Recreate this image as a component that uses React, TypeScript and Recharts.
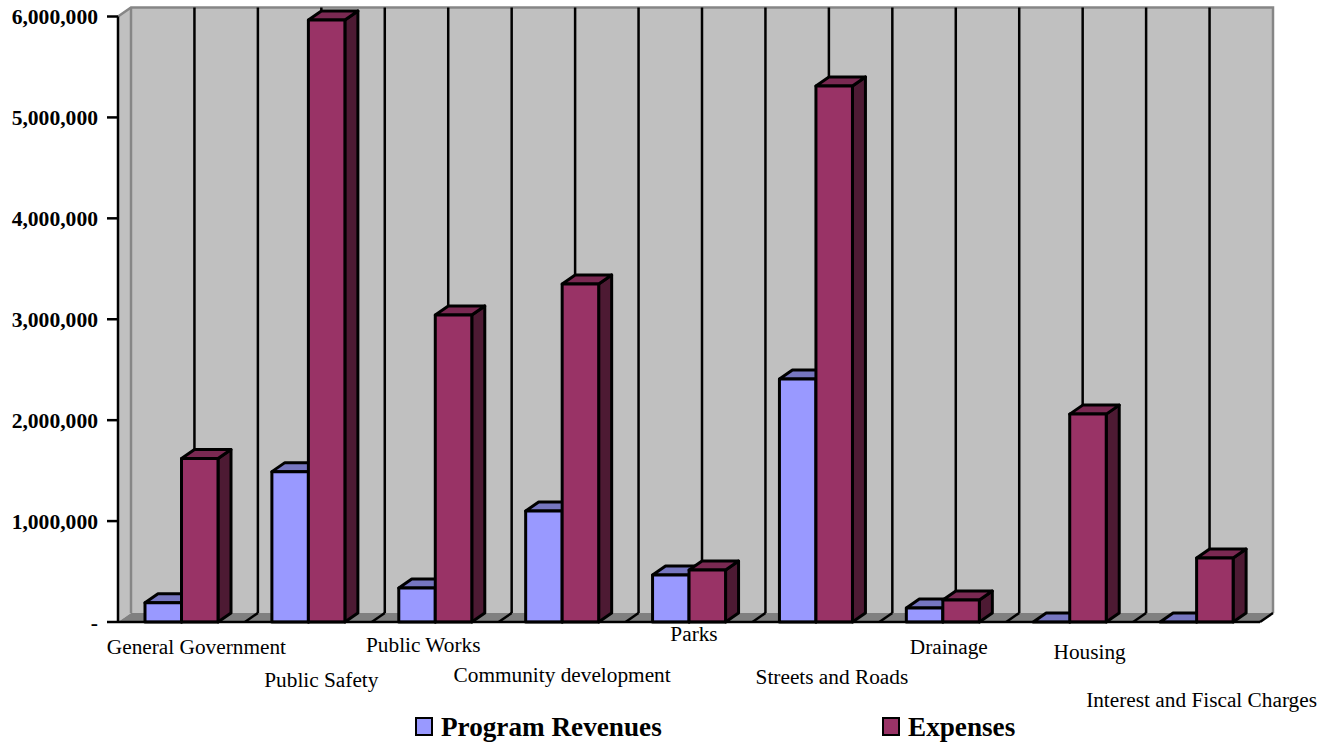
import React from 'react';
import { BarChart, Bar, XAxis, YAxis } from 'recharts';

// Government activities: program revenues against expenses, by function
const categories = [
  'General Government',
  'Public Safety',
  'Public Works',
  'Community development',
  'Parks',
  'Streets and Roads',
  'Drainage',
  'Housing',
  'Interest and Fiscal Charges',
];
const programRevenues = [190000, 1490000, 337000, 1100000, 466000, 2408000, 139000, 0, 0];
const expenses = [1620000, 5966000, 3043000, 3350000, 515000, 5312000, 218000, 2060000, 634000];
const valueTicks = [0, 1000000, 2000000, 3000000, 4000000, 5000000, 6000000];

const rows = categories.map((name, i) => ({
  name,
  revenue: programRevenues[i],
  expense: expenses[i],
}));

// Staggered placement of the category captions, relative to each tick
const captionDx = [15, 13, -12, 0, 5, 16, 6, 20, 5];
const captionY = [654, 687, 652, 682, 641, 684, 654, 659, 707];

const FONT = '"Liberation Serif", serif';
const WIDTH = 1333;
const HEIGHT = 742;
const LEFT = 118;
const RIGHT = 1260;
const TOP = 16.5;
const BASE = 622;
const DEPTH_X = 13;
const DEPTH_Y = 9;
const WALL_GREY = '#868686';

// Back wall, side wall and floor of the 3D plot box
function PlotBox() {
  const step = (RIGHT - LEFT) / categories.length / 2;
  const wallLeft = LEFT + DEPTH_X;
  const wallRight = RIGHT + DEPTH_X;
  const wallTop = TOP - DEPTH_Y;
  const wallBase = BASE - DEPTH_Y;
  const stops = Array.from({ length: categories.length * 2 - 1 }, (_, i) => LEFT + step * (i + 1));
  return (
    <g>
      <rect x={wallLeft} y={wallTop} width={RIGHT - LEFT} height={wallBase - wallTop} fill="#c0c0c0" />
      <polygon
        points={`${LEFT},${TOP} ${wallLeft},${wallTop} ${wallLeft},${wallBase} ${LEFT},${BASE}`}
        fill="#c0c0c0"
      />
      <polyline
        points={`${LEFT},${TOP} ${wallLeft},${wallTop} ${wallRight},${wallTop} ${wallRight},${wallBase}`}
        fill="none"
        stroke={WALL_GREY}
        strokeWidth={2.5}
      />
      <line x1={wallLeft} y1={wallTop} x2={wallLeft} y2={wallBase} stroke={WALL_GREY} strokeWidth={2.5} />
      <polygon
        points={`${LEFT},${BASE} ${wallLeft},${wallBase} ${wallRight},${wallBase} ${RIGHT},${BASE}`}
        fill="#808080"
      />
      {stops.map((x) => (
        <g key={x}>
          <line x1={x + DEPTH_X} y1={wallTop} x2={x + DEPTH_X} y2={wallBase} stroke="#000" strokeWidth={2.5} />
          <line x1={x} y1={BASE} x2={x + DEPTH_X} y2={wallBase} stroke="#000" strokeWidth={2.5} />
        </g>
      ))}
      <line x1={RIGHT} y1={BASE} x2={wallRight} y2={wallBase} stroke="#000" strokeWidth={2.5} />
    </g>
  );
}

// A bar drawn as a box: front face, lit top and shaded side
function boxShape(front: string, top: string, side: string) {
  return function Box(props: any) {
    const { x, y, width, height } = props;
    const r = x + width;
    const b = y + height;
    return (
      <g stroke="#000" strokeWidth={3} strokeLinejoin="round">
        <polygon
          points={`${r},${y} ${r + DEPTH_X},${y - DEPTH_Y} ${r + DEPTH_X},${b - DEPTH_Y} ${r},${b}`}
          fill={side}
        />
        <polygon
          points={`${x},${y} ${x + DEPTH_X},${y - DEPTH_Y} ${r + DEPTH_X},${y - DEPTH_Y} ${r},${y}`}
          fill={top}
        />
        <rect x={x} y={y} width={width} height={height} fill={front} />
      </g>
    );
  };
}

function CategoryTick(props: any) {
  const { x, index, payload } = props;
  return (
    <text
      x={x + captionDx[index]}
      y={captionY[index]}
      textAnchor="middle"
      fontFamily={FONT}
      fontSize={21.3}
      fill="#000"
    >
      {payload.value}
    </text>
  );
}

function LegendEntry({ left, label, color }: { left: number; label: string; color: string }) {
  return (
    <div style={{ position: 'absolute', left, top: 0, whiteSpace: 'nowrap', lineHeight: '30px' }}>
      <span
        style={{
          position: 'absolute',
          left: 0,
          top: 5,
          width: 14,
          height: 15,
          background: color,
          border: '2.5px solid #000',
        }}
      />
      <span style={{ position: 'absolute', left: 26, top: 0, fontFamily: FONT, fontWeight: 700, fontSize: 27.2, color: '#000' }}>
        {label}
      </span>
    </div>
  );
}

const revenueBox = boxShape('#9999ff', '#7676c0', '#4d4d80');
const expenseBox = boxShape('#993366', '#7a2952', '#4d1a33');

export default function App() {
  return (
    <div style={{ position: 'absolute', left: 0, top: 0, width: WIDTH, height: HEIGHT, background: '#fff', overflow: 'hidden' }}>
      <BarChart
        width={WIDTH}
        height={HEIGHT}
        data={rows}
        margin={{ top: TOP, right: WIDTH - RIGHT, bottom: 0, left: 0 }}
        barGap={0}
        barSize={36.5}
      >
        <PlotBox />
        <XAxis
          dataKey="name"
          height={HEIGHT - BASE}
          interval={0}
          axisLine={{ stroke: '#000', strokeWidth: 2.5 }}
          tickLine={false}
          tick={<CategoryTick />}
        />
        <YAxis
          width={LEFT}
          domain={[0, 6000000]}
          ticks={valueTicks}
          interval={0}
          tickSize={11}
          tickMargin={9}
          axisLine={{ stroke: '#000', strokeWidth: 2.5 }}
          tickLine={{ stroke: '#000', strokeWidth: 2.5 }}
          tick={{ fontFamily: FONT, fontWeight: 700, fontSize: 21.6, fill: '#000' }}
          tickFormatter={(v: number) => (v === 0 ? '-' : v.toLocaleString('en-US'))}
        />
        <Bar dataKey="revenue" isAnimationActive={false} shape={revenueBox} />
        <Bar dataKey="expense" isAnimationActive={false} shape={expenseBox} />
      </BarChart>
      <div style={{ position: 'absolute', left: 0, top: 712, width: WIDTH, height: 30 }}>
        <LegendEntry left={415} label="Program Revenues" color="#9999ff" />
        <LegendEntry left={882} label="Expenses" color="#993366" />
      </div>
    </div>
  );
}
